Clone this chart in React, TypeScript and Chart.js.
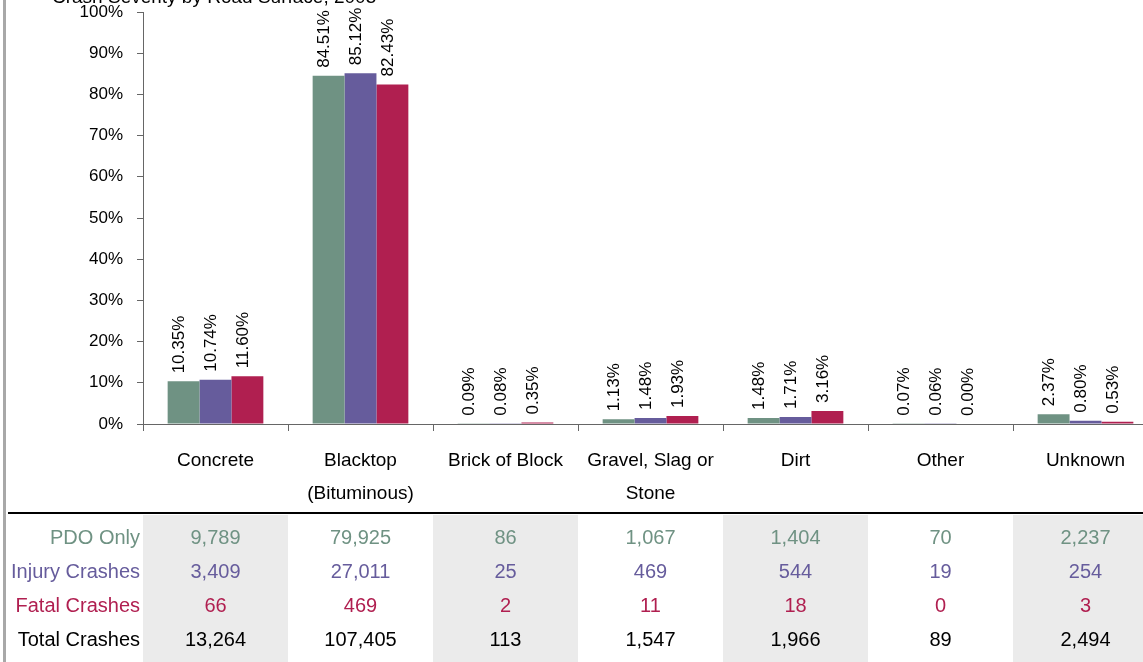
import React, { useEffect, useRef } from "react";
import { Chart, registerables } from "chart.js";

Chart.register(...registerables);

// Road surface categories (multi-line labels for the x axis)
const categories: string[][] = [
  ["Concrete"],
  ["Blacktop", "(Bituminous)"],
  ["Brick of Block"],
  ["Gravel, Slag or", "Stone"],
  ["Dirt"],
  ["Other"],
  ["Unknown"],
];

// Share of each severity class by road surface (%)
const pdoPct = [10.35, 84.51, 0.09, 1.13, 1.48, 0.07, 2.37];
const injuryPct = [10.74, 85.12, 0.08, 1.48, 1.71, 0.06, 0.8];
const fatalPct = [11.6, 82.43, 0.35, 1.93, 3.16, 0.0, 0.53];

// Crash counts shown in the table under the chart
const pdoCounts = [9789, 79925, 86, 1067, 1404, 70, 2237];
const injuryCounts = [3409, 27011, 25, 469, 544, 19, 254];
const fatalCounts = [66, 469, 2, 11, 18, 0, 3];
const totalCounts = [13264, 107405, 113, 1547, 1966, 89, 2494];

const rowNames = ["PDO Only", "Injury Crashes", "Fatal Crashes", "Total Crashes"];

const GREEN = "#6f9283";
const PURPLE = "#665c9c";
const RED = "#b01f50";
const FONT = '"Liberation Sans", Arial, sans-serif';

const titleText = "Crash Severity by Road Surface, 2005";

const fmt = (n: number) => n.toLocaleString("en-US");

const decorPlugin = {
  id: "decor",
  afterDatasetsDraw(chart: any) {
    const ctx = chart.ctx as CanvasRenderingContext2D;
    ctx.save();
    ctx.font = `17px ${FONT}`;
    ctx.fillStyle = "#000";
    ctx.textAlign = "left";
    ctx.textBaseline = "middle";
    chart.data.datasets.forEach((ds: any, di: number) => {
      const meta = chart.getDatasetMeta(di);
      meta.data.forEach((el: any, i: number) => {
        const v = ds.data[i] as number;
        ctx.save();
        ctx.translate(el.x - 4, el.y - 8);
        ctx.rotate(-Math.PI / 2);
        ctx.fillText(v.toFixed(2) + "%", 0, 0);
        ctx.restore();
      });
    });
    ctx.restore();
  },
  afterDraw(chart: any) {
    const ctx = chart.ctx as CanvasRenderingContext2D;
    const x = chart.scales.x;
    const n = categories.length;
    const w = (x.right - x.left) / n;
    ctx.save();

    // title
    ctx.font = `19px ${FONT}`;
    ctx.fillStyle = "#000";
    ctx.textAlign = "left";
    ctx.textBaseline = "alphabetic";
    ctx.fillText(titleText, 52, 3);

    // shaded table columns
    ctx.fillStyle = "#ebebeb";
    for (let i = 0; i < n; i += 2) {
      const cx = x.getPixelForValue(i);
      ctx.fillRect(cx - w / 2, 515, w, 147);
    }

    // rule above the table
    ctx.fillStyle = "#000";
    ctx.fillRect(8, 512, 1160, 2);

    // left frame
    ctx.fillStyle = "#a8a8a8";
    ctx.fillRect(3, 0, 3, 662);

    const rows = [pdoCounts, injuryCounts, fatalCounts, totalCounts];
    const colors = [GREEN, PURPLE, RED, "#000"];
    const ys = [538, 572, 606, 640];
    ctx.font = `20px ${FONT}`;
    ctx.textBaseline = "middle";
    rows.forEach((row, r) => {
      ctx.fillStyle = colors[r];
      ctx.textAlign = "right";
      ctx.fillText(rowNames[r], 140, ys[r]);
      ctx.textAlign = "center";
      row.forEach((v, i) => {
        ctx.fillText(fmt(v), x.getPixelForValue(i), ys[r]);
      });
    });
    ctx.restore();
  },
};

export default function App() {
  const ref = useRef<HTMLCanvasElement | null>(null);

  useEffect(() => {
    if (!ref.current) return;
    const chart = new Chart(ref.current, {
      type: "bar",
      data: {
        labels: categories,
        datasets: [
          { label: "PDO Only", data: pdoPct, backgroundColor: GREEN },
          { label: "Injury Crashes", data: injuryPct, backgroundColor: PURPLE },
          { label: "Fatal Crashes", data: fatalPct, backgroundColor: RED },
        ].map((d) => ({ ...d, borderWidth: 0, categoryPercentage: 0.66, barPercentage: 1.0 })),
      },
      options: {
        responsive: false,
        animation: false,
        devicePixelRatio: 1,
        layout: { padding: { top: 12, left: 0, right: 2, bottom: 0 } },
        plugins: {
          legend: { display: false },
          tooltip: { enabled: false },
          title: { display: false },
        },
        scales: {
          x: {
            grid: { offset: true, drawOnChartArea: false, tickLength: 7, color: "#666" },
            border: { color: "#666", width: 1 },
            ticks: {
              color: "#000",
              padding: 13,
              maxRotation: 0,
              autoSkip: false,
              font: { family: FONT, size: 19, lineHeight: 1.74 },
            },
            afterFit: (s: any) => {
              s.height = 238;
            },
          },
          y: {
            min: 0,
            max: 100,
            grid: { drawOnChartArea: false, tickLength: 6, color: "#666" },
            border: { color: "#666", width: 1 },
            ticks: {
              stepSize: 10,
              color: "#000",
              padding: 14,
              font: { family: FONT, size: 17 },
              callback: (v: any) => v + "%",
            },
            afterFit: (s: any) => {
              s.width = 143;
              s.paddingTop = 0;
              s.paddingBottom = 0;
            },
          },
        },
      },
      plugins: [decorPlugin],
    });
    return () => chart.destroy();
  }, []);

  return (
    <div
      style={{
        position: "fixed",
        left: 0,
        top: 0,
        width: 1143,
        height: 662,
        overflow: "hidden",
        background: "#fff",
      }}
    >
      <canvas ref={ref} width={1160} height={662} style={{ width: 1160, height: 662 }} />
    </div>
  );
}
